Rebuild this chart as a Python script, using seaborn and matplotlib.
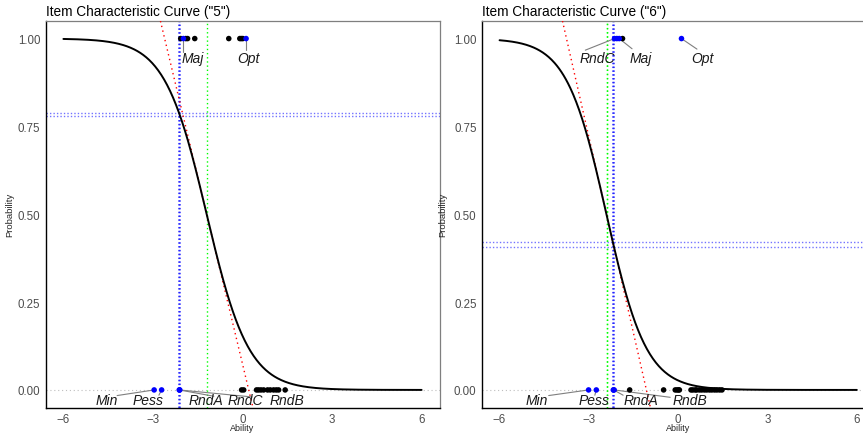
import numpy as np
import pandas as pd
import seaborn as sns
import matplotlib.pyplot as plt

# ---------------- data ----------------
titles = ['Item Characteristic Curve ("5")', 'Item Characteristic Curve ("6")']
x_ticks = [-6, -3, 0, 3, 6]
y_ticks = [0.00, 0.25, 0.50, 0.75, 1.00]
y_tick_labels = ["0.00", "0.25", "0.50", "0.75", "1.00"]

# item parameters (discrimination, location) estimated from the curves
item_a = [1.42, 1.49]
item_b = [-1.20, -2.41]

# blue (reference) lines
blue_v = [[-2.12, -2.09], [-2.18, -2.16]]
blue_h = [[0.779, 0.789], [0.406, 0.422]]
green_v = [[-1.18], [-2.40, -2.38]]

# observed abilities of respondents (y = 1 correct, y = 0 incorrect)
top_black = [[-2.07, -1.90, -1.84, -1.60, -0.46, -0.09, -0.04, 0.01],
             [-1.87]]
top_blue = [[-1.98, 0.12],
            [-2.14, -2.06, -1.98, 0.11]]
bot_black = [[-0.03, 0.04, 0.47, 0.54, 0.62, 0.71, 0.84, 0.93, 1.04, 1.13, 1.21, 1.43],
             [-1.63, -0.49, -0.10, -0.04, 0.01, 0.04, 0.43, 0.49, 0.57, 0.62, 0.71,
              0.79, 0.88, 0.96, 1.05, 1.13, 1.22, 1.30, 1.39, 1.47]]
bot_blue = [[-2.96, -2.71, -2.12, -2.10],
            [-3.01, -2.75, -2.18, -2.15]]

# labels: text, point x, point y
label_text = [["Maj", "Opt", "Min", "Pess", "RndA", "RndC", "RndB"],
              ["RndC", "Maj", "Opt", "Min", "Pess", "RndA", "RndB"]]
label_px = [[-1.98, 0.12, -2.96, -2.71, -2.12, -2.12, 1.43],
            [-2.14, -1.98, 0.11, -3.01, -2.75, -2.17, -2.15]]
label_py = [[1, 1, 0, 0, 0, 0, 0],
            [1, 1, 1, 0, 0, 0, 0]]

# ---------------- layout (positions of labels / segments) ----------------
label_lx = [[-1.68, 0.21, -4.56, -3.18, -1.23, 0.10, 1.49],
            [-2.70, -1.25, 0.82, -4.74, -2.84, -1.25, 0.39]]
label_ly = [[0.945, 0.945, -0.030, -0.030, -0.030, -0.030, -0.030],
            [0.945, 0.945, 0.945, -0.030, -0.030, -0.030, -0.030]]
seg_ex = [[-1.98, 0.12, -4.20, -2.80, -0.96, 0.32, None],
          [-3.12, -1.55, 0.63, -4.35, -2.80, -1.85, -0.27]]
seg_ey = [[0.962, 0.967, -0.016, -0.015, -0.018, -0.020, None],
          [0.967, 0.971, 0.970, -0.016, -0.015, -0.015, -0.021]]

W, H = 863, 435
ax_px = [(45.5, 439.5), (481.7, 874.7)]
ylabel_px = [14.0, 447.7]
xlabel_py = 429.0
ax_top, ax_bot = 22.0, 408.5

sns.set_theme(style="white")
plt.rcParams['font.family'] = ['Liberation Sans', 'DejaVu Sans']

fig = plt.figure(figsize=(W / 100, H / 100), dpi=100)

for i in range(2):
    x0, x1 = ax_px[i]
    ax = fig.add_axes([x0 / W, (H - ax_bot) / H, (x1 - x0) / W, (ax_bot - ax_top) / H])

    grid = np.linspace(-6, 6, 481)
    curve = pd.DataFrame({"Ability": grid,
                          "Probability": 1 / (1 + np.exp(item_a[i] * (grid - item_b[i])))})

    ax.axhline(0, color="#BEBEBE", lw=0.8, ls=(0, (1, 2.5)), zorder=1)
    for yh in blue_h[i]:
        ax.axhline(yh, color="#0000FF", alpha=0.55, lw=1.0, ls=(0, (1, 1.5)), zorder=2)
    for xv in blue_v[i]:
        ax.axvline(xv, color="#0000FF", alpha=0.8, lw=1.1, ls=(0, (1, 1.5)), zorder=2)
    for xv in green_v[i]:
        ax.axvline(xv, color="#00FF00", alpha=1.0, lw=1.0, ls=(0, (1, 2)), zorder=2)
    ax.axline((item_b[i], 0.5), slope=-item_a[i] / 4, color="#FF0000", lw=1.0,
              ls=(0, (1, 2.5)), zorder=3)

    sns.lineplot(data=curve, x="Ability", y="Probability", color="black", lw=1.4,
                 ax=ax, zorder=4)

    pts = pd.DataFrame({
        "Ability": top_black[i] + bot_black[i] + top_blue[i] + bot_blue[i],
        "Probability": [1] * len(top_black[i]) + [0] * len(bot_black[i])
        + [1] * len(top_blue[i]) + [0] * len(bot_blue[i]),
        "kind": ["obs"] * (len(top_black[i]) + len(bot_black[i]))
        + ["ref"] * (len(top_blue[i]) + len(bot_blue[i])),
    })
    sns.scatterplot(data=pts, x="Ability", y="Probability", hue="kind",
                    palette={"obs": "black", "ref": "#0000FF"}, s=16,
                    edgecolor="none", legend=False, ax=ax, zorder=5)

    for j, t in enumerate(label_text[i]):
        if seg_ex[i][j] is not None:
            ax.plot([label_px[i][j], seg_ex[i][j]], [label_py[i][j], seg_ey[i][j]],
                    color="#7F7F7F", lw=0.8, zorder=4.5)
        ax.text(label_lx[i][j], label_ly[i][j], t, style="italic", fontsize=10,
                ha="center", va="center", color="#1A1A1A", zorder=6)

    ax.set_xlim(-6.6, 6.6)
    ax.set_ylim(-0.05, 1.05)
    ax.set_xticks(x_ticks)
    ax.set_yticks(y_ticks)
    ax.set_yticklabels(y_tick_labels)
    ax.tick_params(axis="both", direction="out", length=2.5, width=0.6, color="#333333",
                   labelcolor="#4D4D4D", labelsize=8.3, pad=1.2)
    ax.set_xlabel("Ability", fontsize=6.5, va="center")
    ax.xaxis.set_label_coords(0.5, (ax_bot - xlabel_py) / (ax_bot - ax_top))
    ax.set_ylabel("Probability", fontsize=6.8)
    ax.yaxis.set_label_coords((ylabel_px[i] - x0) / (x1 - x0), 0.5)
    ax.set_title(titles[i], loc="left", fontsize=9.8, pad=4, color="black")

    for s in ["left", "bottom"]:
        ax.spines[s].set_color("black")
        ax.spines[s].set_linewidth(1.0)
    for s in ["top", "right"]:
        ax.spines[s].set_color("#7F7F7F")
        ax.spines[s].set_linewidth(0.9)
        ax.spines[s].set_visible(True)

fig.savefig("out.png", dpi=100)
